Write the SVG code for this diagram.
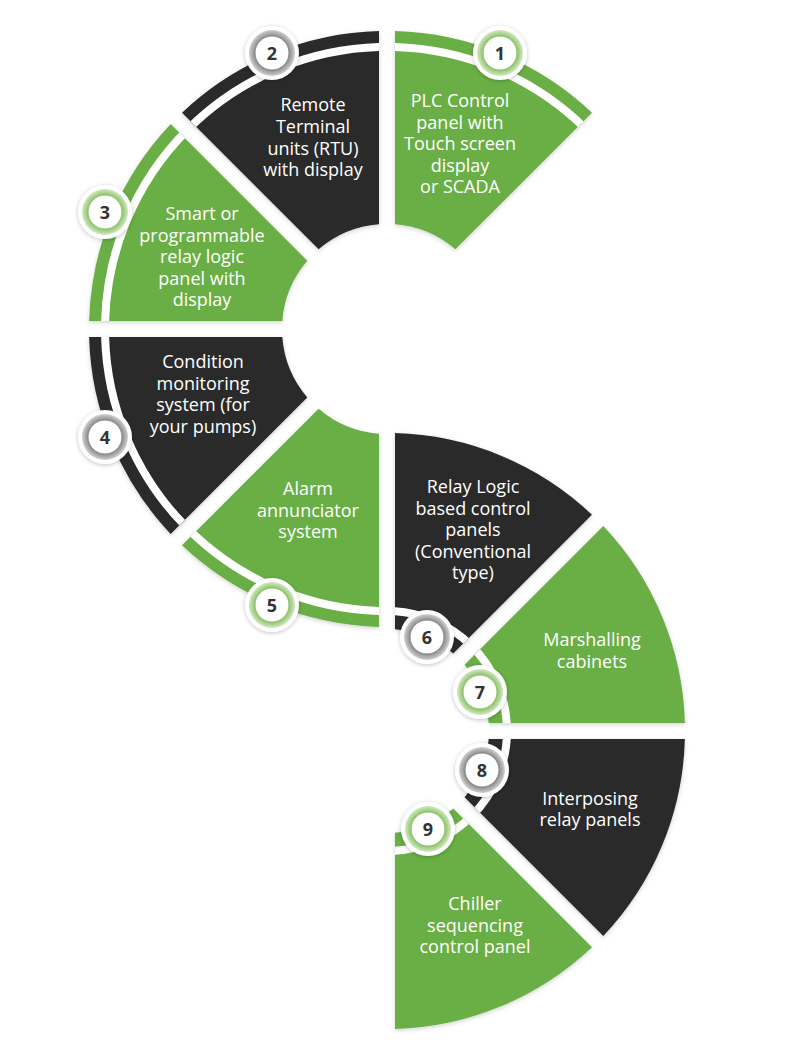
<svg xmlns="http://www.w3.org/2000/svg" width="800" height="1055" viewBox="0 0 800 1055">
<style>
.g{fill:#6aaf45}
.d{fill:#2c2c2c}
.t{font-family:"Open Sans","Noto Sans","DejaVu Sans",sans-serif;font-size:18px;fill:#fff;text-anchor:middle}
.n{font-family:"Open Sans","Noto Sans","DejaVu Sans",sans-serif;font-size:18px;font-weight:bold;fill:#333;text-anchor:middle}
.bw{fill:#fff;filter:url(#bsh)}
.bi{fill:#fff}
.big{stroke:#8dc26a;stroke-width:1}
.bik{stroke:#8a8a8a;stroke-width:1}
.st{fill:none;stroke:#fff;stroke-width:8}
</style>
<defs>
<filter id="sh" x="-20%" y="-20%" width="140%" height="140%"><feDropShadow dx="0" dy="1.5" stdDeviation="2" flood-color="#000" flood-opacity="0.18"/></filter>
<filter id="bsh" x="-40%" y="-40%" width="180%" height="180%"><feDropShadow dx="0" dy="1" stdDeviation="2" flood-color="#000" flood-opacity="0.25"/></filter>
<radialGradient id="rgG" cx="50%" cy="50%" r="50%"><stop offset="0.74" stop-color="#8fc46c"/><stop offset="1" stop-color="#d2e8c2"/></radialGradient>
<radialGradient id="rgK" cx="50%" cy="50%" r="50%"><stop offset="0.74" stop-color="#8c8c8c"/><stop offset="1" stop-color="#d0d0d0"/></radialGradient>
<path id="segT" d="M8,-297.89 A298,298 0 0 1 204.99,-216.30 L68.37,-79.69 A105,105 0 0 0 8,-104.70 Z"/>
<path id="strT" d="M0,-282 A282,282 0 0 1 199.40,-199.40"/>
<path id="segB" d="M8,-297.89 A298,298 0 0 1 204.99,-216.30 L66.25,-77.56 A102,102 0 0 0 8,-101.69 Z"/>
<path id="strB" d="M0,-120 A120,120 0 0 1 84.85,-84.85"/>
<clipPath id="cT"><use href="#segT"/></clipPath>
<clipPath id="cB"><use href="#segB"/></clipPath>
</defs>
<rect width="800" height="1055" fill="#fff"/>
<g id="connectors"/>

<g id="node1">
<g filter="url(#sh)"><g transform="translate(387,329)"><use href="#segT" class="g"/><use href="#strT" class="st" clip-path="url(#cT)"/></g></g>
<text class="t"><tspan x="460" y="107">PLC Control</tspan><tspan x="460" y="128.5">panel with</tspan><tspan x="460" y="150">Touch screen</tspan><tspan x="460" y="171.5">display</tspan><tspan x="460" y="193">or SCADA</tspan></text>
<circle class="bw" cx="500" cy="53" r="27"/><circle cx="500" cy="53" r="23" fill="url(#rgG)"/><circle class="bi big" cx="500" cy="53" r="17"/>
<text class="n" x="500" y="59.5">1</text>
</g>

<g id="node2">
<g filter="url(#sh)"><g transform="translate(387,329) rotate(-45)"><use href="#segT" class="d"/><use href="#strT" class="st" clip-path="url(#cT)"/></g></g>
<text class="t"><tspan x="313" y="111">Remote</tspan><tspan x="313" y="133">Terminal</tspan><tspan x="313" y="154.5">units (RTU)</tspan><tspan x="313" y="176">with display</tspan></text>
<circle class="bw" cx="272" cy="53" r="27"/><circle cx="272" cy="53" r="23" fill="url(#rgK)"/><circle class="bi bik" cx="272" cy="53" r="17"/>
<text class="n" x="272" y="59.5">2</text>
</g>

<g id="node3">
<g filter="url(#sh)"><g transform="translate(387,329) rotate(-90)"><use href="#segT" class="g"/><use href="#strT" class="st" clip-path="url(#cT)"/></g></g>
<text class="t"><tspan x="202" y="220">Smart or</tspan><tspan x="202" y="241.5">programmable</tspan><tspan x="202" y="263">relay logic</tspan><tspan x="202" y="284.5">panel with</tspan><tspan x="202" y="306">display</tspan></text>
<circle class="bw" cx="105" cy="212" r="27"/><circle cx="105" cy="212" r="23" fill="url(#rgG)"/><circle class="bi big" cx="105" cy="212" r="17"/>
<text class="n" x="105" y="218.5">3</text>
</g>

<g id="node4">
<g filter="url(#sh)"><g transform="translate(387,329) rotate(225)"><use href="#segT" class="d"/><use href="#strT" class="st" clip-path="url(#cT)"/></g></g>
<text class="t"><tspan x="203" y="368">Condition</tspan><tspan x="203" y="389.5">monitoring</tspan><tspan x="203" y="411">system (for</tspan><tspan x="203" y="432.5">your pumps)</tspan></text>
<circle class="bw" cx="105" cy="437" r="27"/><circle cx="105" cy="437" r="23" fill="url(#rgK)"/><circle class="bi bik" cx="105" cy="437" r="17"/>
<text class="n" x="105" y="443.5">4</text>
</g>

<g id="node5">
<g filter="url(#sh)"><g transform="translate(387,329) rotate(180)"><use href="#segT" class="g"/><use href="#strT" class="st" clip-path="url(#cT)"/></g></g>
<text class="t"><tspan x="308" y="495">Alarm</tspan><tspan x="308" y="516.5">annunciator</tspan><tspan x="308" y="538">system</tspan></text>
<circle class="bw" cx="272" cy="605" r="27"/><circle cx="272" cy="605" r="23" fill="url(#rgG)"/><circle class="bi big" cx="272" cy="605" r="17"/>
<text class="n" x="272" y="611.5">5</text>
</g>

<g id="node6">
<g filter="url(#sh)"><g transform="translate(387,731)"><use href="#segB" class="d"/><use href="#strB" class="st" clip-path="url(#cB)"/></g></g>
<text class="t"><tspan x="473" y="493">Relay Logic</tspan><tspan x="473" y="514.5">based control</tspan><tspan x="473" y="536">panels</tspan><tspan x="473" y="557.5">(Conventional</tspan><tspan x="473" y="579">type)</tspan></text>
<circle class="bw" cx="427" cy="637" r="27"/><circle cx="427" cy="637" r="23" fill="url(#rgK)"/><circle class="bi bik" cx="427" cy="637" r="17"/>
<text class="n" x="427" y="643.5">6</text>
</g>

<g id="node7">
<g filter="url(#sh)"><g transform="translate(387,731) rotate(45)"><use href="#segB" class="g"/><use href="#strB" class="st" clip-path="url(#cB)"/></g></g>
<text class="t"><tspan x="592" y="646">Marshalling</tspan><tspan x="592" y="667.5">cabinets</tspan></text>
<circle class="bw" cx="480" cy="692" r="27"/><circle cx="480" cy="692" r="23" fill="url(#rgG)"/><circle class="bi big" cx="480" cy="692" r="17"/>
<text class="n" x="480" y="698.5">7</text>
</g>

<g id="node8">
<g filter="url(#sh)"><g transform="translate(387,731) rotate(90)"><use href="#segB" class="d"/><use href="#strB" class="st" clip-path="url(#cB)"/></g></g>
<text class="t"><tspan x="590" y="804.5">Interposing</tspan><tspan x="590" y="826">relay panels</tspan></text>
<circle class="bw" cx="482" cy="770" r="27"/><circle cx="482" cy="770" r="23" fill="url(#rgK)"/><circle class="bi bik" cx="482" cy="770" r="17"/>
<text class="n" x="482" y="776.5">8</text>
</g>

<g id="node9">
<g filter="url(#sh)"><g transform="translate(387,731) rotate(135)"><use href="#segB" class="g"/><use href="#strB" class="st" clip-path="url(#cB)"/></g></g>
<text class="t"><tspan x="475" y="910">Chiller</tspan><tspan x="475" y="931.5">sequencing</tspan><tspan x="475" y="953">control panel</tspan></text>
<circle class="bw" cx="428" cy="829" r="27"/><circle cx="428" cy="829" r="23" fill="url(#rgG)"/><circle class="bi big" cx="428" cy="829" r="17"/>
<text class="n" x="428" y="835.5">9</text>
</g>
</svg>
